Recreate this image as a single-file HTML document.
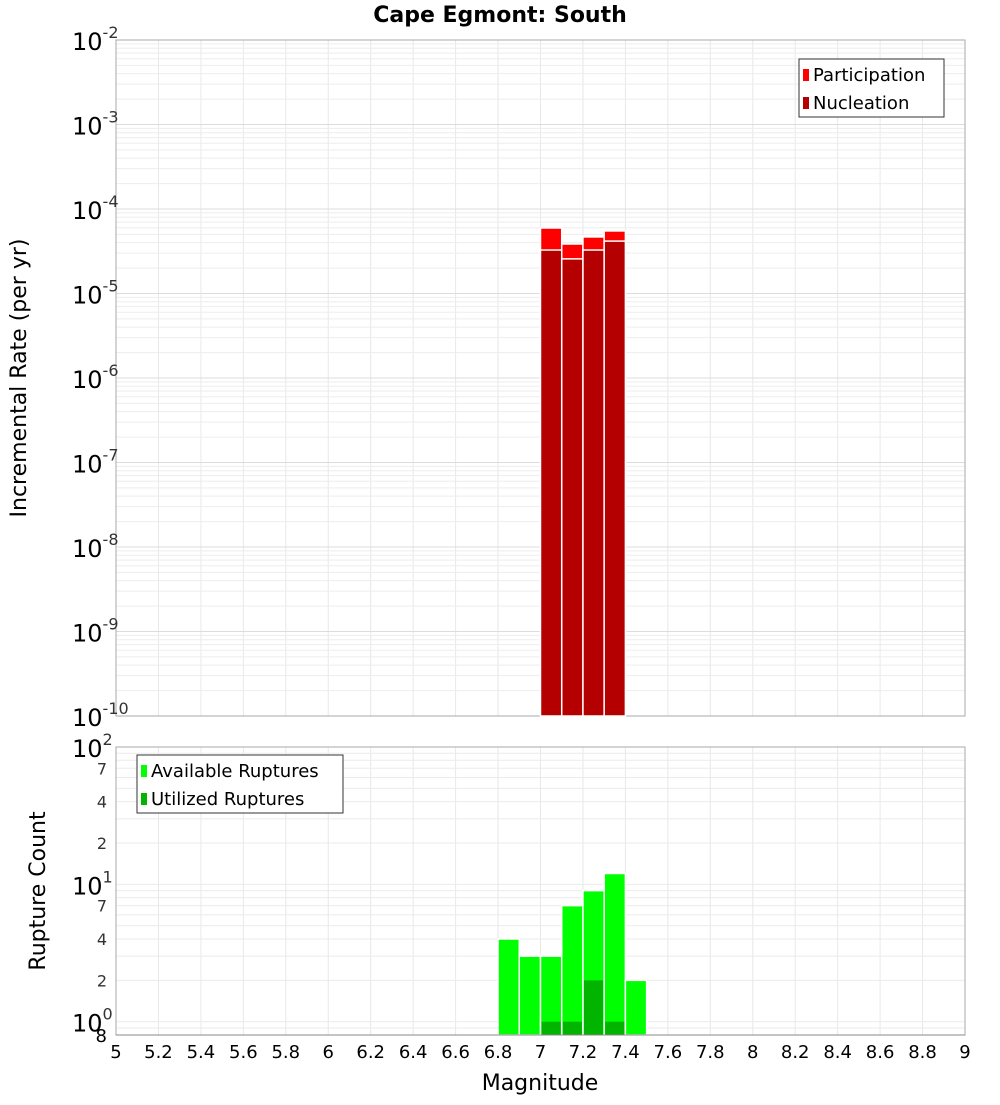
<!DOCTYPE html>
<html><head><meta charset="utf-8"><style>body{margin:0;background:#fff}svg text{font-family:"DejaVu Sans","Liberation Sans",sans-serif}</style></head>
<body>
<svg id="c" width="1000" height="1100" xmlns="http://www.w3.org/2000/svg"></svg>
<script>
const magBins=[7.05,7.15,7.25,7.35];
const participation=[5.96e-5,3.85e-5,4.67e-5,5.5e-5];
const nucleation=[3.27e-5,2.57e-5,3.27e-5,4.17e-5];
const countBins=[6.85,6.95,7.05,7.15,7.25,7.35,7.45];
const available=[4,3,3,7,9,12,2];
const utilizedBins=[7.05,7.15,7.25,7.35];
const utilized=[1,1,2,1];
const xTicks=[5,5.2,5.4,5.6,5.8,6,6.2,6.4,6.6,6.8,7,7.2,7.4,7.6,7.8,8,8.2,8.4,8.6,8.8,9];
const topExps=[-10,-9,-8,-7,-6,-5,-4,-3,-2];
const botMinor=[2,4,7,20,40,70];

const svg=document.getElementById('c');const NS='http://www.w3.org/2000/svg';
function mk(t,a,p,txt){const e=document.createElementNS(NS,t);for(const k in a)e.setAttribute(k,a[k]);if(txt!==undefined)e.textContent=txt;(p||svg).appendChild(e);return e;}
const L=116,R=965,T1=40,B1=716,T2=747,B2=1035;
const x=v=>L+(v-5)/4*(R-L);
const y1=v=>T1+(-2-Math.log10(v))/8*(B1-T1);
const y2=v=>T2+(Math.log10(100)-Math.log10(v))/Math.log10(100/0.8)*(B2-T2);
const g=mk('g',{});
xTicks.forEach(t=>{mk('line',{x1:x(t),x2:x(t),y1:T1,y2:B1,stroke:'#e8e8e8'},g);mk('line',{x1:x(t),x2:x(t),y1:T2,y2:B2,stroke:'#e8e8e8'},g);});
for(let e=-10;e<-2;e++)for(let m=1;m<10;m++){const yy=y1(m*Math.pow(10,e));mk('line',{x1:L,x2:R,y1:yy,y2:yy,stroke:m==1?'#dcdcdc':'#ededed'},g);}
for(let e=0;e<2;e++)for(let m=1;m<10;m++){const yy=y2(m*Math.pow(10,e));mk('line',{x1:L,x2:R,y1:yy,y2:yy,stroke:'#ebebeb'},g);}
mk('line',{x1:L,x2:R,y1:y2(0.9),y2:y2(0.9),stroke:'#ebebeb'},g);
mk('rect',{x:L,y:T1,width:R-L,height:B1-T1,fill:'none',stroke:'#aaa'});
mk('rect',{x:L,y:T2,width:R-L,height:B2-T2,fill:'none',stroke:'#aaa'});
magBins.forEach((m,i)=>{let r=mk('rect',{x:x(m-0.05),y:y1(participation[i]),width:x(m+0.05)-x(m-0.05),height:B1-y1(participation[i]),fill:'#ff0000',stroke:'#fff','stroke-width':1.5});
});
magBins.forEach((m,i)=>{let r=mk('rect',{x:x(m-0.05),y:y1(nucleation[i]),width:x(m+0.05)-x(m-0.05),height:B1-y1(nucleation[i]),fill:'#b40000',stroke:'#fff','stroke-width':1.5});
});
countBins.forEach((m,i)=>{let r=mk('rect',{x:x(m-0.05),y:y2(available[i]),width:x(m+0.05)-x(m-0.05),height:B2-y2(available[i]),fill:'#00ff00',stroke:'#fff','stroke-width':1.5});
});
utilizedBins.forEach((m,i)=>{let r=mk('rect',{x:x(m-0.05)+1,y:y2(utilized[i]),width:x(m+0.05)-x(m-0.05)-2,height:B2-y2(utilized[i]),fill:'#00b400'});
});
mk('line',{x1:L,x2:R,y1:B2,y2:B2,stroke:'#888'});
topExps.forEach(e=>{const yy=y1(Math.pow(10,e));const t=mk('text',{x:72,y:yy+10,'font-size':24,fill:'#000'});
mk('tspan',{},t,'10');mk('tspan',{dy:-12,'font-size':16,fill:'#333'},t,String(e));});
[[100,'2'],[10,'1'],[1,'0']].forEach(([v,s])=>{const t=mk('text',{x:72,y:y2(v)+10,'font-size':24});mk('tspan',{},t,'10');mk('tspan',{dy:-12,'font-size':16,fill:'#333'},t,s);});
botMinor.forEach(v=>{const t=mk('text',{x:107,y:y2(v)+6,'font-size':16,'text-anchor':'end',fill:'#333'},null,String(v).charAt(0));});
mk('text',{x:107,y:1042,'font-size':18,'text-anchor':'end'},null,'8');
xTicks.forEach(t=>{const e=mk('text',{x:x(t),y:1058,'font-size':18,'text-anchor':'middle'},null,String(t));});
mk('text',{x:540,y:1090,'font-size':22,'text-anchor':'middle'},null,'Magnitude');
mk('text',{x:500,y:22,'font-size':22,'font-weight':'bold','text-anchor':'middle'},null,'Cape Egmont: South');
mk('text',{x:0,y:0,'font-size':22,'text-anchor':'middle',transform:'translate(26,378) rotate(-90)'},null,'Incremental Rate (per yr)');
mk('text',{x:0,y:0,'font-size':22,'text-anchor':'middle',transform:'translate(45,891) rotate(-90)'},null,'Rupture Count');
function legend(x0,y0,w,items,name){const lg=mk('g',{});
mk('rect',{x:x0,y:y0,width:w,height:58,fill:'#fff',stroke:'#333'},lg);
items.forEach(([c,s],i)=>{mk('rect',{x:x0+4,y:y0+10+i*28,width:6,height:12,fill:c},lg);mk('text',{x:x0+14,y:y0+22+i*28,'font-size':18},lg,s);});}
legend(799,59,145,[['#ff0000','Participation'],['#b40000','Nucleation']],'top-legend');
legend(137,755,206,[['#00ff00','Available Ruptures'],['#00b400','Utilized Ruptures']],'bottom-legend');
</script>
</body></html>
